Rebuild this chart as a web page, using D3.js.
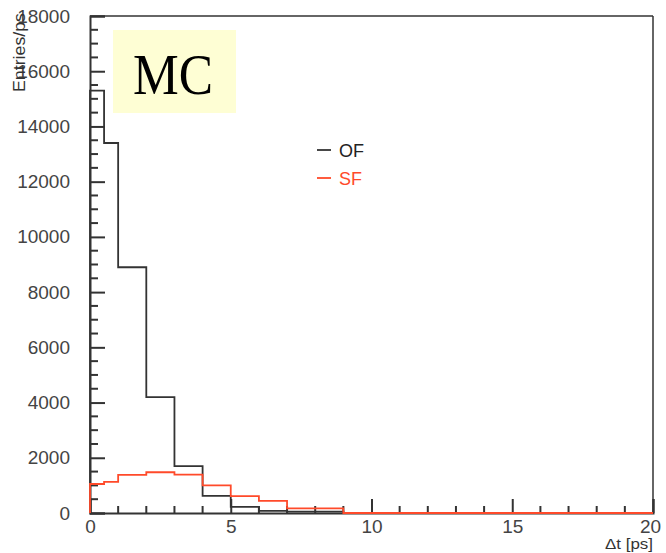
<!DOCTYPE html>
<html><head><meta charset="utf-8">
<script src="https://cdn.jsdelivr.net/npm/d3@7"></script>
<style>body{margin:0;background:#fff}svg{display:block}</style>
</head><body><svg id="c" width="666" height="553" font-family="Liberation Sans, Arial, sans-serif"></svg>
<script>
const binEdges = [0,0.5,1,2,3,4,5,6,7,8,9,20];
const ofValues = [15300,13400,8900,4200,1700,620,220,80,50,50,0];
const sfValues = [1050,1130,1380,1475,1390,1000,610,440,170,170,0];
const yTicks = [0,2000,4000,6000,8000,10000,12000,14000,16000,18000];
const xTicks = [0,5,10,15,20];
const seriesNames = ["OF","SF"];
const seriesColors = ["#333333","#ff4a2a"];

const svg = d3.select("#c");
const L=90,R=653,T=16,B=513;
const x = d3.scaleLinear().domain([0,20]).range([L,R]);
const y = d3.scaleLinear().domain([0,18000]).range([B,T]);

// MC box
svg.append("rect").attr("x",113).attr("y",30).attr("width",123).attr("height",83).attr("fill","#fefed4");
svg.append("text").attr("x",173).attr("y",94).attr("text-anchor","middle")
  .style("font-family","'Liberation Serif', 'Times New Roman', serif").style("font-size","58px")
  .attr("textLength",80).attr("lengthAdjust","spacingAndGlyphs").attr("fill","#000").text("MC");

function stepPath(vals){
  const pts=[];
  pts.push([x(binEdges[0]),y(0)]);
  vals.forEach((v,i)=>{pts.push([x(binEdges[i]),y(v)]);pts.push([x(binEdges[i+1]),y(v)]);});
  return d3.line()(pts);
}
svg.append("path").attr("d",stepPath(ofValues)).attr("fill","none").attr("stroke",seriesColors[0]).attr("stroke-width",1.8);

// frame
svg.append("line").attr("x1",L).attr("x2",R).attr("y1",T).attr("y2",T).attr("stroke","#333").attr("stroke-width",1.5);
svg.append("line").attr("x1",R).attr("x2",R).attr("y1",T).attr("y2",B).attr("stroke","#333").attr("stroke-width",1.5);

// y axis
const ya = svg.append("g").attr("transform",`translate(${L},0)`)
  .call(d3.axisLeft(y).tickValues(yTicks).tickSize(-15).tickPadding(20).tickFormat(d3.format("d")));
ya.select(".domain").attr("stroke","#333").attr("stroke-width",2);
ya.selectAll(".tick line").attr("stroke","#333").attr("stroke-width",2);
ya.selectAll(".tick text").style("font-size","19px").attr("fill","#444").style("font-family","'Liberation Sans', Arial, sans-serif");
const yMinor = d3.range(0,18001,500).filter(v=>v%2000!==0);
svg.append("g").selectAll("line").data(yMinor).join("line")
  .attr("x1",L).attr("x2",L+8).attr("y1",d=>y(d)).attr("y2",d=>y(d)).attr("stroke","#333").attr("stroke-width",2);

// x axis
const xa = svg.append("g").attr("transform",`translate(0,${B})`)
  .call(d3.axisBottom(x).tickValues(xTicks).tickSize(-14).tickPadding(7).tickFormat(d3.format("d")));
xa.select(".domain").attr("stroke","#333").attr("stroke-width",2);
xa.selectAll(".tick line").attr("stroke","#333").attr("stroke-width",2);
xa.selectAll(".tick text").style("font-size","19px").attr("fill","#444").style("font-family","'Liberation Sans', Arial, sans-serif");
xa.selectAll(".tick text").filter(d=>d===20).attr("dx","-3");
const xMinor = d3.range(1,20).filter(v=>v%5!==0);
svg.append("g").selectAll("line").data(xMinor).join("line")
  .attr("x1",d=>x(d)).attr("x2",d=>x(d)).attr("y1",B).attr("y2",B-7).attr("stroke","#333").attr("stroke-width",2);
// red histogram drawn over baseline
svg.append("path").attr("d",stepPath(sfValues)).attr("fill","none").attr("stroke",seriesColors[1]).attr("stroke-width",1.8);

// axis titles
svg.append("text").attr("x",653).attr("y",549).attr("text-anchor","end").style("font-size","14px")
  .attr("textLength",48).attr("lengthAdjust","spacingAndGlyphs").attr("fill","#333").text("Δt [ps]");
svg.append("text").attr("transform","translate(25,13) rotate(-90)").attr("text-anchor","end").style("font-size","16px")
  .attr("textLength",79).attr("lengthAdjust","spacingAndGlyphs").attr("fill","#333").text("Entries/ps");

// legend
seriesNames.forEach((n,i)=>{
  const yy = 150 + i*28;
  svg.append("line").attr("x1",317).attr("x2",331).attr("y1",yy).attr("y2",yy).attr("stroke",seriesColors[i]).attr("stroke-width",1.8);
  svg.append("text").attr("x",339).attr("y",yy+6.5).style("font-size","18px").attr("fill",i===0?"#222":seriesColors[i]).text(n);
});
</script></body></html>
